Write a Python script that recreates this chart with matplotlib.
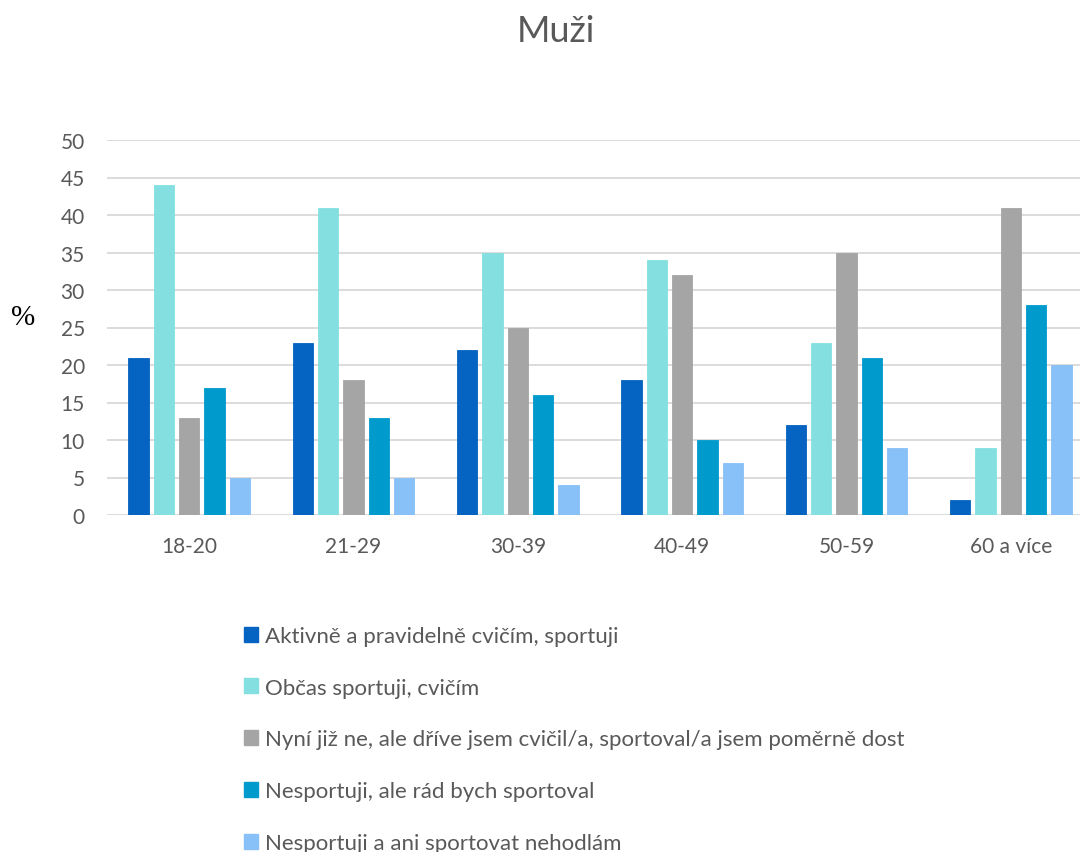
import matplotlib
matplotlib.use("Agg")
import matplotlib.pyplot as plt
from matplotlib.patches import Patch
import numpy as np

plt.rcParams['font.family'] = ['Lato', 'DejaVu Sans']

age_groups = ["18-20", "21-29", "30-39", "40-49", "50-59", "60 a více"]
series_names = [
    "Aktivně a pravidelně cvičím, sportuji",
    "Občas sportuji, cvičím",
    "Nyní již ne, ale dříve jsem cvičil/a, sportoval/a jsem poměrně dost",
    "Nesportuji, ale rád bych sportoval",
    "Nesportuji a ani sportovat nehodlám",
]
aktivne = [21, 23, 22, 18, 12, 2]
obcas = [44, 41, 35, 34, 23, 9]
drive = [13, 18, 25, 32, 35, 41]
rad_bych = [17, 13, 16, 10, 21, 28]
nehodlam = [5, 5, 4, 7, 9, 20]
y_ticks = [0, 5, 10, 15, 20, 25, 30, 35, 40, 45, 50]

series_values = [aktivne, obcas, drive, rad_bych, nehodlam]
colors = ["#0563C1", "#84E0E0", "#A5A5A5", "#009BCC", "#88C0F8"]
text_color = "#595959"

W, H = 1080, 853
fig = plt.figure(figsize=(W / 100, H / 100), dpi=100)
ax = fig.add_axes([107 / W, (H - 516) / H, 986 / W, 375 / H])

x = np.arange(len(age_groups))
pitch = 0.154
bar_w = 0.124
for k, (vals, col) in enumerate(zip(series_values, colors)):
    ax.bar(x + (k - 2) * pitch, vals, width=bar_w, color=col, zorder=3,
           edgecolor=col, linewidth=0.6)

ax.set_xlim(-0.5, len(age_groups) - 0.5)
ax.set_ylim(0, 50)
ax.set_yticks(y_ticks)
ax.set_xticks(x)
ax.set_xticklabels(age_groups)
ax.grid(axis='y', color="#D9D9D9", linewidth=1.3, zorder=0)
ax.set_axisbelow(True)
for s in ax.spines.values():
    s.set_visible(False)
ax.tick_params(axis='both', length=0, labelsize=15, labelcolor=text_color)
ax.tick_params(axis='x', pad=15)
ax.tick_params(axis='y', pad=16)

fig.text(11 / W, 1 - 318 / H, "%", fontsize=21, family=["Liberation Serif"],
         ha='left', va='center', color="black")

fig.text(556 / W, 1 - 31 / H, "Muži", fontsize=26, color=text_color,
         ha='center', va='center')

handles = [Patch(facecolor=c, edgecolor=c) for c in colors]
leg = fig.legend(handles, series_names, loc='upper left',
                 bbox_to_anchor=(235 / W, 1 - 618 / H), frameon=False,
                 fontsize=16, handlelength=0.65, handleheight=0.65,
                 handletextpad=0.3, labelspacing=1.43, borderaxespad=0)
for t in leg.get_texts():
    t.set_color(text_color)

fig.savefig("out.png", dpi=100)
